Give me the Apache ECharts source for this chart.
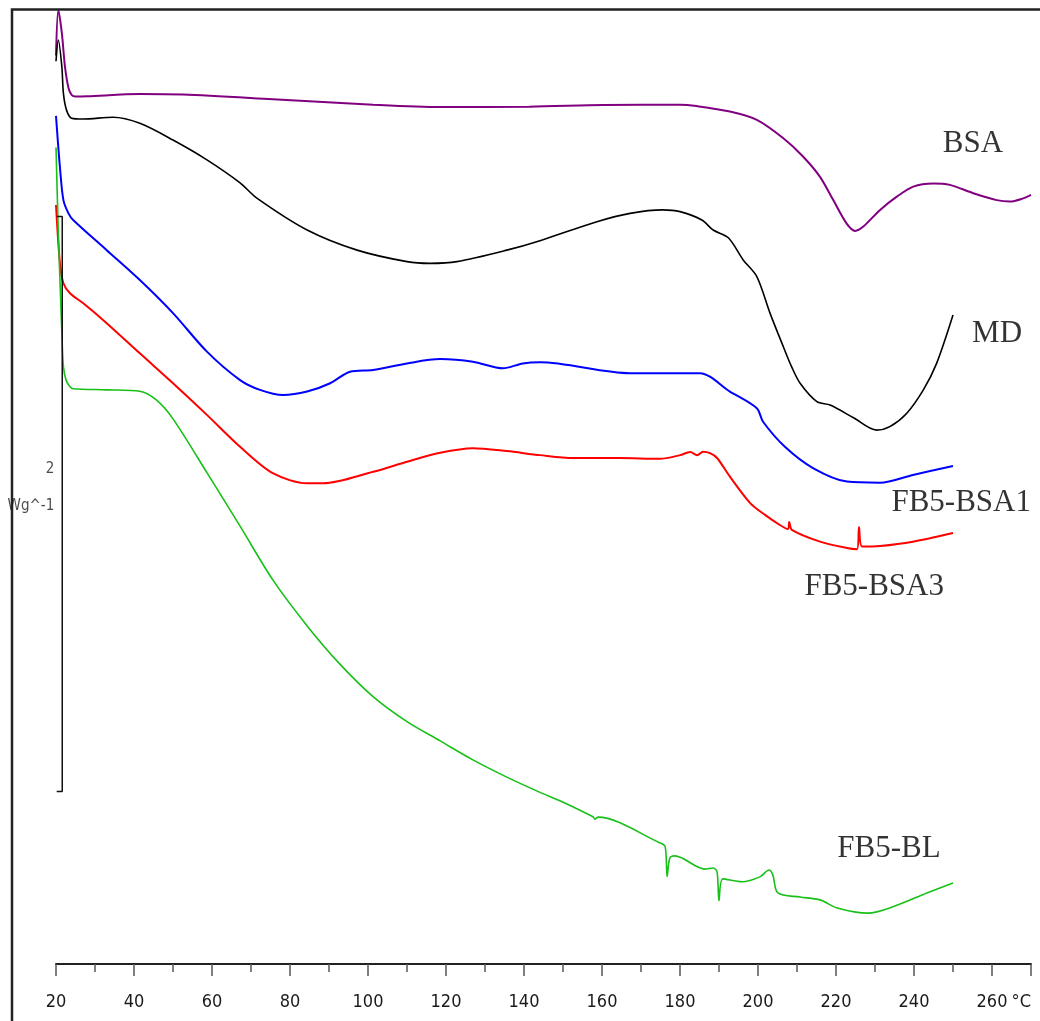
<!DOCTYPE html>
<html>
<head>
<meta charset="utf-8">
<script src="https://cdn.jsdelivr.net/npm/echarts@6/dist/echarts.min.js"></script>
<style>
html,body{margin:0;padding:0;background:#fff;}
#chart{width:1040px;height:1021px;}
</style>
</head>
<body>
<div id="chart"></div>
<script>
// Temperature axis (°C)
const X_MIN = 20, X_MAX = 270, X_STEP = 20;
// Heat-flow axis (W/g, arbitrary offset)
const Y_MIN = 0, Y_MAX = 3.32;

// DSC curves: [temperature °C, heat flow W/g]
const BSA = [[20.0,3.16],[20.6,3.318],[21.5,3.238],[22.3,3.121],[23.2,3.047],[24.0,3.023],[25.0,3.017],[28.0,3.018],[41.5,3.026],[52.6,3.024],[75.6,3.008],[101.3,2.989],[118.5,2.981],[141.4,2.982],[160.3,2.988],[180.0,2.989],[184.3,2.984],[192.8,2.965],[199.7,2.936],[206.5,2.872],[211.6,2.808],[215.9,2.738],[219.3,2.657],[222.7,2.576],[224.9,2.550],[227.0,2.565],[231.3,2.623],[235.6,2.669],[239.8,2.704],[244.9,2.715],[249.2,2.710],[255.2,2.681],[261.2,2.657],[264.6,2.652],[268.0,2.663],[270.0,2.675]];

const MD = [[20.0,3.14],[20.6,3.214],[21.5,3.121],[21.9,3.028],[22.7,2.970],[24.0,2.942],[27.0,2.939],[34.6,2.945],[41.5,2.924],[50.0,2.866],[58.7,2.797],[67.2,2.717],[71.5,2.664],[84.4,2.553],[97.2,2.483],[110.0,2.443],[115.9,2.437],[122.8,2.443],[135.6,2.483],[144.1,2.516],[158.7,2.582],[167.2,2.611],[175.6,2.623],[180.0,2.617],[185.6,2.588],[188.5,2.553],[192.4,2.526],[196.2,2.449],[199.7,2.391],[203.1,2.263],[206.5,2.147],[208.6,2.078],[210.8,2.020],[215.1,1.956],[218.5,1.944],[224.5,1.900],[230.4,1.857],[233.8,1.869],[238.1,1.915],[242.4,1.997],[245.8,2.089],[250.0,2.257]];

const FB5_BSA1 = [[20.0,2.95],[21.0,2.773],[21.9,2.657],[23.2,2.611],[24.4,2.588],[33.0,2.483],[41.5,2.379],[50.0,2.264],[58.7,2.130],[67.2,2.031],[72.3,1.997],[78.2,1.979],[84.4,1.991],[90.3,2.020],[95.4,2.060],[101.3,2.066],[110.0,2.089],[118.5,2.104],[126.9,2.095],[134.6,2.072],[139.7,2.089],[144.1,2.093],[167.2,2.055],[185.1,2.055],[192.8,1.991],[199.7,1.933],[201.3,1.886],[206.9,1.799],[214.1,1.725],[222.8,1.678],[231.3,1.674],[239.7,1.701],[250.0,1.732]];

const FB5_BSA3 = [[20.0,2.64],[21.0,2.438],[21.9,2.368],[23.6,2.333],[27.0,2.298],[33.0,2.229],[41.5,2.124],[50.0,2.020],[58.7,1.910],[67.2,1.799],[75.6,1.707],[84.4,1.672],[88.5,1.672],[101.3,1.712],[110.0,1.747],[118.5,1.778],[126.9,1.794],[135.6,1.784],[144.1,1.770],[152.6,1.760],[164.6,1.760],[174.9,1.757],[180.0,1.770],[182.6,1.781],[184.4,1.770],[185.9,1.782],[187.7,1.777],[189.5,1.760],[192.8,1.695],[198.0,1.603],[201.8,1.562],[205.6,1.527],[207.7,1.513],[208.0,1.537],[208.7,1.510],[215.9,1.469],[222.8,1.447],[225.4,1.443],[225.9,1.520],[226.7,1.452],[231.3,1.454],[239.7,1.469],[250.0,1.499]];

const FB5_BL = [[20.0,2.84],[20.6,2.542],[21.2,2.310],[21.5,2.194],[21.9,2.078],[22.6,2.030],[23.6,2.008],[24.4,2.001],[33.0,1.997],[41.5,1.992],[45.8,1.961],[50.0,1.896],[58.7,1.709],[67.2,1.523],[75.6,1.336],[84.4,1.176],[92.8,1.043],[101.3,0.930],[110.0,0.843],[118.5,0.776],[126.9,0.710],[135.6,0.650],[144.1,0.597],[149.2,0.568],[157.7,0.512],[158.2,0.504],[159.0,0.511],[174.9,0.421],[176.2,0.408],[176.7,0.304],[177.4,0.369],[178.7,0.376],[186.4,0.330],[188.5,0.334],[189.5,0.321],[190.0,0.220],[191.0,0.296],[195.9,0.286],[200.5,0.303],[202.8,0.327],[203.8,0.310],[205.1,0.247],[210.8,0.233],[215.9,0.223],[220.3,0.195],[228.2,0.177],[234.6,0.199],[243.3,0.247],[250.0,0.282]];

// Scale bar: 2 W/g
const SCALE_BAR = [[20.18,2.6],[21.6,2.6],[21.6,0.6],[20.18,0.6]];
const SCALE_TEXT = [['2',21.6,1.722],['Wg^-1',21.6,1.593]];

// Curve names: [text, temperature, heat flow]
const CURVE_LABELS = [['BSA',255.1,2.852],['MD',261.3,2.191],['FB5-BSA1',252.1,1.603],['FB5-BSA3',229.8,1.313],['FB5-BL',233.6,0.400]];

const NARROW = "'Liberation Sans Narrow','DejaVu Sans Condensed',sans-serif";

function curve(name, data, color, width){
  return {name, type:'line', data, showSymbol:false, smooth:0.3,
    lineStyle:{color, width}, itemStyle:{color}, emphasis:{disabled:true}, silent:true, z:3};
}

const chart = echarts.init(document.getElementById('chart'), null, {renderer:'canvas'});
chart.setOption({
  animation:false,
  backgroundColor:'#fff',
  grid:{left:56, right:9, top:9.5, bottom:57, containLabel:false, outerBoundsMode:'none'},
  xAxis:{type:'value', min:X_MIN, max:X_MAX, interval:X_STEP,
    axisLine:{show:true, onZero:false, lineStyle:{color:'#222', width:2}},
    axisTick:{show:true, length:12, lineStyle:{color:'#555', width:1.5}},
    minorTick:{show:true, splitNumber:2, length:8, lineStyle:{color:'#555', width:1.5}},
    splitLine:{show:false}, minorSplitLine:{show:false},
    axisLabel:{margin:29, fontSize:18, fontFamily:NARROW, color:'#1a1a1a', alignMaxLabel:'right',
      formatter:v => v === X_MAX ? '°C' : String(v)}},
  yAxis:{type:'value', min:Y_MIN, max:Y_MAX, show:false, splitLine:{show:false}},
  graphic:[{type:'polyline', silent:true, z:10,
    shape:{points:[[12,1021],[12,9.5],[1040,9.5]]},
    style:{stroke:'#222', lineWidth:2.5, fill:null}}],
  series:[
    curve('BSA', BSA, '#800080', 2),
    curve('MD', MD, '#000000', 1.6),
    curve('FB5-BSA1', FB5_BSA1, '#0000ff', 2),
    curve('FB5-BSA3', FB5_BSA3, '#ff0000', 2),
    curve('FB5-BL', FB5_BL, '#18c018', 1.6),
    {name:'scale', type:'line', data:SCALE_BAR, showSymbol:false, smooth:false,
      lineStyle:{color:'#111', width:1.5}, silent:true, z:4},
    {name:'scaleText', type:'scatter', clip:false, silent:true, symbolSize:0,
      data:SCALE_TEXT.map(d => ({value:[d[1],d[2]], name:d[0]})),
      label:{show:true, position:'left', distance:8, formatter:p => p.name,
        fontSize:15, fontFamily:NARROW, color:'#1a1a1a'}},
    {name:'curveNames', type:'scatter', clip:false, silent:true, symbolSize:0,
      data:CURVE_LABELS.map(d => ({value:[d[1],d[2]], name:d[0]})),
      label:{show:true, position:'inside', formatter:p => p.name,
        fontSize:31, fontFamily:"'Liberation Serif','Times New Roman',serif", color:'#000'}}
  ]
});
</script>
</body>
</html>
